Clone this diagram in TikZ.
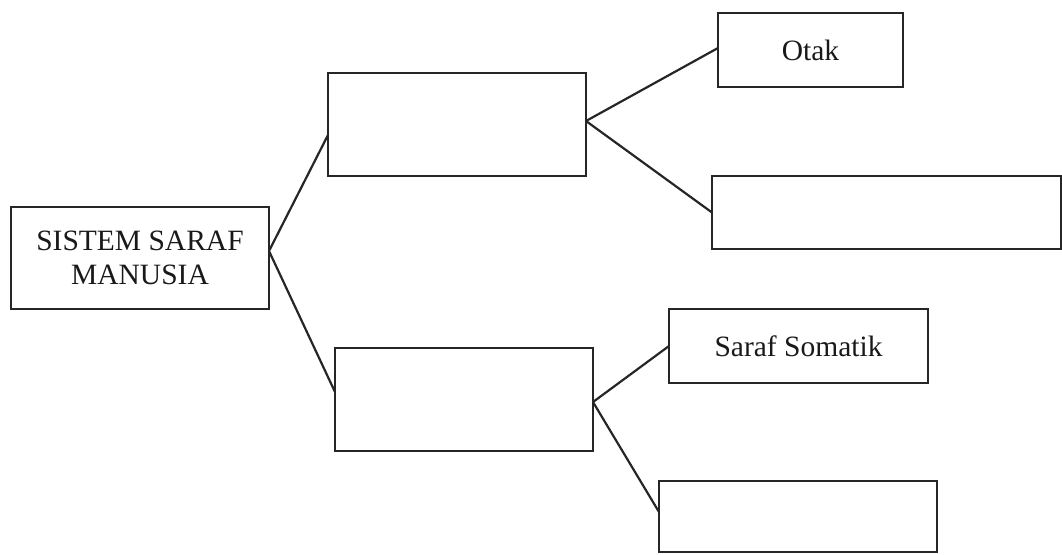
\documentclass[tikz,border=0pt]{standalone}
\usepackage{fontspec}
\setmainfont{Liberation Serif}
\begin{document}
\begin{tikzpicture}[x=1pt,y=-1pt,
  box/.style={draw=black!85,line width=2.2pt,inner sep=0pt,outer sep=0pt,
    align=center,font=\fontsize{29.5}{34}\selectfont,text=black!90},
  link/.style={draw=black!85,line width=2.2pt}]
\useasboundingbox (0,0) rectangle (1062,554);
\node[box,minimum width=258pt,minimum height=102pt] (root) at (140,258) {SISTEM SARAF\\MANUSIA};
\node[box,minimum width=258pt,minimum height=103pt] (up) at (457,124.5) {};
\node[box,minimum width=258pt,minimum height=103pt] (low) at (464,399.5) {};
\node[box,minimum width=185pt,minimum height=74pt] (otak) at (810.5,50) {Otak};
\node[box,minimum width=349pt,minimum height=73pt] (r1) at (886.5,212.5) {};
\node[box,minimum width=259pt,minimum height=74pt] (som) at (798.5,346) {Saraf Somatik};
\node[box,minimum width=278pt,minimum height=71pt] (r2) at (798,516.5) {};
\coordinate (rootout) at ([yshift=7pt]root.east);
\coordinate (upout) at ([yshift=3.5pt]up.east);
\coordinate (lowout) at ([yshift=-2.5pt]low.east);
\draw[link] (rootout) -- ([yshift=-10.5pt]up.west);
\draw[link] (rootout) -- ([yshift=7.5pt]low.west);
\draw[link] (upout) -- ([yshift=2pt]otak.west);
\draw[link] (upout) -- (r1.west);
\draw[link] (lowout) -- (som.west);
\draw[link] (lowout) -- ([yshift=4.5pt]r2.west);
\end{tikzpicture}
\end{document}
